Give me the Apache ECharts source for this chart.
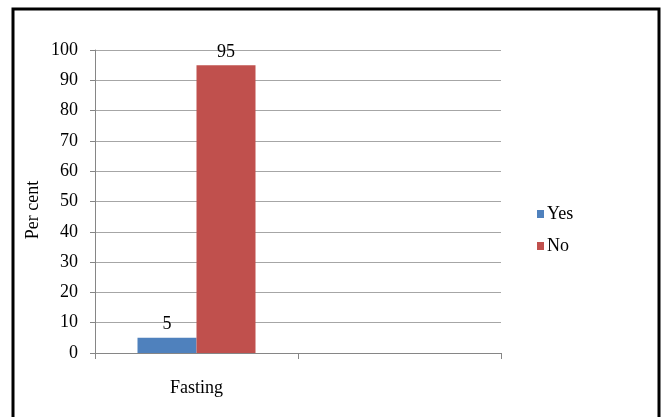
<!DOCTYPE html>
<html>
<head>
<meta charset="utf-8">
<script src="https://cdn.jsdelivr.net/npm/echarts@6/dist/echarts.min.js"></script>
<style>
  html, body { margin: 0; padding: 0; background: #fff; }
  #chart { width: 661px; height: 417px; }
</style>
</head>
<body>
<div id="chart"></div>
<script>
// Survey responses by practice, in per cent
const categories = ['Fasting', ''];
const yesValues = [5, null];
const noValues = [95, null];
const yTicks = [0, 10, 20, 30, 40, 50, 60, 70, 80, 90, 100];
const yTitle = 'Per cent';

const serif = '"Liberation Serif", "Times New Roman", serif';
const chart = echarts.init(document.getElementById('chart'), null, { renderer: 'canvas' });

chart.setOption({
  animation: false,
  backgroundColor: '#ffffff',
  graphic: [
    {
      type: 'rect',
      shape: { x: 13, y: 9, width: 646, height: 420 },
      style: { fill: 'none', stroke: '#000', lineWidth: 3 },
      silent: true
    },
    {
      type: 'text',
      x: 33,
      y: 210,
      rotation: Math.PI / 2,
      style: {
        text: yTitle,
        fontFamily: serif,
        fontSize: 18,
        fill: '#000',
        align: 'center',
        verticalAlign: 'middle'
      },
      silent: true
    }
  ],
  grid: { left: 95, right: 160, top: 50, bottom: 64 },
  legend: {
    orient: 'vertical',
    left: 532,
    top: 200,
    itemWidth: 7,
    itemHeight: 8,
    itemGap: 14,
    icon: 'rect',
    textStyle: { fontFamily: serif, fontSize: 18, color: '#000', padding: [3, 0, 0, -2] },
    data: ['Yes', 'No']
  },
  xAxis: {
    type: 'category',
    data: categories,
    axisLine: { lineStyle: { color: '#868686', width: 1 } },
    axisTick: { show: true, length: 6, alignWithLabel: false, lineStyle: { color: '#868686' } },
    axisLabel: { fontFamily: serif, fontSize: 18, color: '#000', margin: 26 },
    splitLine: { show: false }
  },
  yAxis: {
    type: 'value',
    min: yTicks[0],
    max: yTicks[yTicks.length - 1],
    interval: 10,
    axisLine: { show: true, lineStyle: { color: '#868686', width: 1 } },
    axisTick: { show: true, length: 5, lineStyle: { color: '#868686' } },
    axisLabel: { fontFamily: serif, fontSize: 18, color: '#000', margin: 17 },
    splitLine: { lineStyle: { color: '#a6a6a6', width: 1 } }
  },
  series: [
    {
      name: 'Yes',
      type: 'bar',
      data: yesValues,
      barWidth: 59,
      barGap: '0%',
      itemStyle: { color: '#4F81BD' },
      label: { show: true, position: 'top', distance: 5, fontFamily: serif, fontSize: 18, color: '#000' }
    },
    {
      name: 'No',
      type: 'bar',
      data: noValues,
      barWidth: 59,
      barGap: '0%',
      itemStyle: { color: '#C0504D' },
      label: { show: true, position: 'top', distance: 4, fontFamily: serif, fontSize: 18, color: '#000' }
    }
  ]
});
</script>
</body>
</html>
